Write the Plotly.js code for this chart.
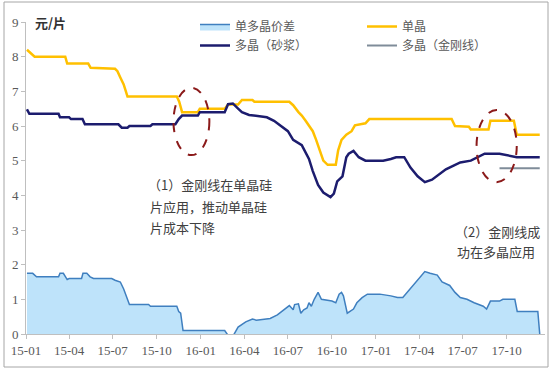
<!DOCTYPE html>
<html><head><meta charset="utf-8">
<script src="https://cdn.plot.ly/plotly-3.0.1.min.js"></script>
<style>html,body{margin:0;padding:0;background:#fff}#chart{width:551px;height:371px}</style>
</head><body><div id="chart"></div>
<script>
// 单晶
const monoDates=['2015-01-03','2015-01-19','2015-03-24','2015-03-28','2015-05-11','2015-05-16','2015-07-06','2015-07-11','2015-07-17','2015-07-24','2015-08-01','2015-11-12','2015-11-17','2015-11-23','2015-12-26','2015-12-30','2016-02-20','2016-02-27','2016-03-19','2016-03-27','2016-04-18','2016-04-22','2016-07-04','2016-07-12','2016-07-23','2016-07-30','2016-08-07','2016-08-14','2016-08-22','2016-08-29','2016-09-06','2016-09-13','2016-09-22','2016-10-09','2016-10-14','2016-10-21','2016-10-31','2016-11-11','2016-11-18','2016-12-10','2016-12-18','2017-06-08','2017-06-15','2017-07-14','2017-07-18','2017-08-24','2017-08-28','2017-10-16','2017-10-22','2017-12-09'];
const monoVals=[8.2,8.0,8.0,7.8,7.8,7.68,7.65,7.58,7.4,7.2,6.85,6.85,6.7,6.4,6.4,6.5,6.5,6.62,6.62,6.75,6.75,6.7,6.7,6.6,6.4,6.3,6.15,6.0,5.85,5.6,5.3,5.0,4.88,4.88,5.3,5.6,5.75,5.85,6.02,6.08,6.2,6.2,6.0,5.98,5.9,5.9,6.15,6.15,5.75,5.75];
// 多晶（砂浆）
const polyDates=['2015-01-03','2015-01-08','2015-03-10','2015-03-13','2015-04-01','2015-04-05','2015-04-29','2015-05-04','2015-07-13','2015-07-20','2015-08-01','2015-08-05','2015-09-18','2015-09-22','2015-11-09','2015-11-16','2015-11-23','2015-12-26','2015-12-30','2016-02-20','2016-02-27','2016-03-08','2016-03-19','2016-03-27','2016-04-11','2016-05-18','2016-06-02','2016-06-16','2016-07-01','2016-07-12','2016-07-30','2016-08-14','2016-08-22','2016-09-02','2016-09-13','2016-09-28','2016-10-05','2016-10-12','2016-10-23','2016-10-31','2016-11-05','2016-11-15','2016-11-26','2016-12-10','2017-01-16','2017-02-01','2017-02-12','2017-03-01','2017-03-14','2017-03-29','2017-04-13','2017-04-28','2017-05-12','2017-05-27','2017-06-11','2017-06-26','2017-07-18','2017-08-02','2017-08-16','2017-09-16','2017-10-01','2017-10-22','2017-12-09'];
const polyVals=[6.48,6.35,6.35,6.25,6.25,6.2,6.2,6.05,6.05,5.95,5.95,6.0,6.0,6.05,6.05,6.2,6.3,6.3,6.4,6.4,6.63,6.65,6.5,6.4,6.32,6.25,6.15,6.0,5.85,5.6,5.45,5.05,4.7,4.3,4.08,3.95,4.05,4.4,4.55,5.1,5.2,5.28,5.1,5.0,5.0,5.05,5.1,5.1,4.8,4.55,4.38,4.45,4.6,4.75,4.85,4.95,5.0,5.1,5.2,5.2,5.15,5.1,5.1];
// 多晶（金刚线）
const diaDates=['2017-09-16','2017-12-09'];
const diaVals=[4.78,4.78];
// 单多晶价差
const spreadDates=['2015-01-03','2015-01-15','2015-01-23','2015-03-10','2015-03-13','2015-03-20','2015-03-28','2015-04-01','2015-04-27','2015-04-30','2015-05-08','2015-05-15','2015-05-22','2015-06-29','2015-07-06','2015-07-17','2015-07-24','2015-07-29','2015-08-05','2015-09-14','2015-09-18','2015-11-12','2015-11-16','2015-11-20','2015-11-25','2016-02-20','2016-02-26','2016-03-10','2016-03-19','2016-04-04','2016-04-18','2016-04-26','2016-05-25','2016-06-09','2016-06-23','2016-07-04','2016-07-12','2016-07-15','2016-07-23','2016-07-28','2016-08-03','2016-08-10','2016-08-14','2016-08-19','2016-08-25','2016-09-02','2016-09-09','2016-10-01','2016-10-09','2016-10-16','2016-10-21','2016-10-25','2016-11-02','2016-11-11','2016-11-15','2016-11-22','2016-12-03','2016-12-14','2017-01-09','2017-02-01','2017-02-15','2017-02-26','2017-03-07','2017-03-22','2017-04-02','2017-04-13','2017-04-24','2017-05-09','2017-05-19','2017-06-04','2017-06-15','2017-06-26','2017-07-10','2017-07-25','2017-08-13','2017-08-20','2017-08-28','2017-09-16','2017-09-23','2017-10-18','2017-10-23','2017-12-05','2017-12-09'];
const spreadVals=[1.75,1.75,1.65,1.65,1.75,1.75,1.57,1.6,1.6,1.75,1.75,1.65,1.6,1.6,1.55,1.5,1.3,1.1,0.85,0.85,0.8,0.8,0.65,0.6,0.1,0.1,-0.02,-0.02,0.2,0.35,0.43,0.4,0.45,0.55,0.7,0.82,0.7,0.85,0.87,0.6,0.7,0.75,0.9,0.8,1.0,1.2,1.0,0.95,0.9,1.15,1.2,1.1,0.6,0.7,0.72,0.9,1.05,1.15,1.15,1.1,1.05,1.05,1.2,1.45,1.65,1.8,1.75,1.7,1.5,1.4,1.2,1.05,1.0,0.9,0.8,0.72,0.95,0.95,1.0,1.0,0.65,0.65,0.0];
const names=['单多晶价差','单晶','多晶（砂浆）','多晶（金刚线）'];
const yTitle='元/片';
const note1=['（1）金刚线在单晶硅','片应用，推动单晶硅','片成本下降'];
const note2=['（2）金刚线成','功在多晶应用'];

const traces=[
 {x:spreadDates,y:spreadVals,name:names[0],type:'scatter',mode:'lines',fill:'tozeroy',
  fillcolor:'#BEE3FA',line:{color:'#3F7FBF',width:1.5},legend:'legend'},
 {x:monoDates,y:monoVals,name:names[1],type:'scatter',mode:'lines',line:{color:'#FFC000',width:2.5},legend:'legend2'},
 {x:polyDates,y:polyVals,name:names[2],type:'scatter',mode:'lines',line:{color:'#1C1C6E',width:2.5},legend:'legend'},
 {x:diaDates,y:diaVals,name:names[3],type:'scatter',mode:'lines',line:{color:'#7F8C99',width:2},legend:'legend2'}
];
const W=519,H=312,L=26,T=22;
const px=(v)=>(v-L)/W, py=(v)=>(T+H-v)/H;
const legFont={family:'Noto Sans CJK SC',size:12,color:'#595959'};
const noteFont={family:'Noto Sans CJK SC',size:13,color:'#404040'};
const anns=[
  {xref:'paper',yref:'paper',x:px(33),y:py(22),xanchor:'left',yanchor:'middle',text:'<b>'+yTitle+'</b>',showarrow:false,
   font:{family:'Noto Sans CJK SC',size:13,color:'#333'}}
];
const n1x=[146,148,148], n1y=[185,206,227];
note1.forEach((t,i)=>anns.push({xref:'paper',yref:'paper',x:px(n1x[i]),y:py(n1y[i]),xanchor:'left',yanchor:'middle',text:t,showarrow:false,font:noteFont}));
const n2x=[542,537], n2y=[231,251];
note2.forEach((t,i)=>anns.push({xref:'paper',yref:'paper',x:px(n2x[i]),y:py(n2y[i]),xanchor:'right',yanchor:'middle',text:t,showarrow:false,font:noteFont}));
const layout={
 width:551,height:371,margin:{l:26,r:6,t:22,b:37},
 paper_bgcolor:'#fff',plot_bgcolor:'#fff',showlegend:true,
 font:{family:'Liberation Serif',color:'#595959'},
 xaxis:{type:'date',range:['2015-01-01','2017-12-20'],tick0:'2015-01-01',dtick:'M3',tickformat:'%y-%m',
  showgrid:false,zeroline:false,showline:true,linecolor:'#BFBFBF',linewidth:1,ticks:'outside',ticklen:4,tickcolor:'#BFBFBF',
  tickfont:{family:'Liberation Serif',size:13,color:'#595959'}},
 yaxis:{range:[0,9],dtick:1,showgrid:false,zeroline:false,showline:true,linecolor:'#BFBFBF',linewidth:1,ticks:'outside',ticklen:4,tickcolor:'#BFBFBF',
  tickfont:{family:'Liberation Serif',size:13,color:'#595959'}},
 legend:{x:px(195),y:py(12),xanchor:'left',yanchor:'top',bgcolor:'rgba(0,0,0,0)',font:legFont,tracegroupgap:0},
 legend2:{x:px(362),y:py(12),xanchor:'left',yanchor:'top',bgcolor:'rgba(0,0,0,0)',font:legFont,tracegroupgap:0},
 annotations:anns,
 shapes:[
  {type:'circle',xref:'x',yref:'y',x0:'2015-11-05',x1:'2016-01-19',y0:5.16,y1:7.1,line:{color:'#8B1A1A',width:2,dash:'dash'}},
  {type:'circle',xref:'x',yref:'y',x0:'2017-07-30',x1:'2017-10-22',y0:4.38,y1:6.46,line:{color:'#8B1A1A',width:2,dash:'dash'}},
  {type:'rect',xref:'paper',yref:'paper',x0:px(4),x1:px(548),y0:py(367),y1:py(2),line:{color:'#A6A6A6',width:1}}
 ]
};
Plotly.newPlot('chart',traces,layout,{staticPlot:true,displayModeBar:false});
</script></body></html>
